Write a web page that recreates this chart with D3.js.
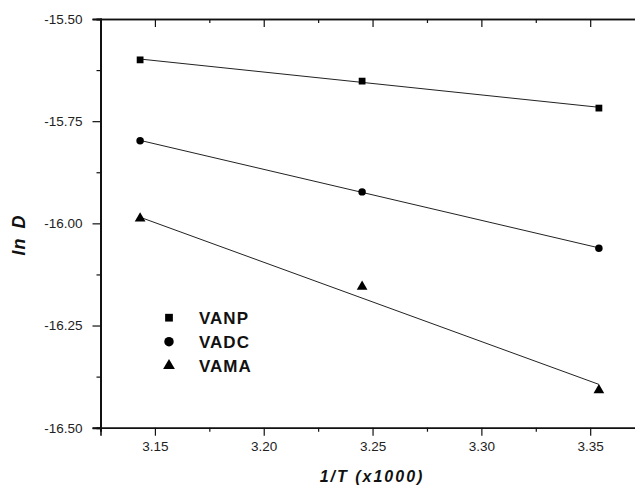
<!DOCTYPE html>
<html>
<head>
<meta charset="utf-8">
<script src="https://cdn.jsdelivr.net/npm/d3@7"></script>
<style>
  body { margin: 0; background: #fff; }
  svg { display: block; font-family: "Liberation Sans", Arial, sans-serif; }
</style>
</head>
<body>
<script>
// 1/T for 45, 35, 25 C
const invT = [3.1432, 3.2452, 3.3540]
const seriesNames = ["VANP", "VADC", "VAMA"]
const VANP = [-15.600, -15.652, -15.718]
const VADC = [-15.798, -15.923, -16.061]
const VAMA = [-15.988, -16.155, -16.408]
// linear fit, value at first and last 1/T
const fitStart = [-15.598, -15.797, -15.985]
const fitEnd = [-15.716, -16.060, -16.394]
const xMajor = [3.15, 3.20, 3.25, 3.30, 3.35]
const yMajor = [-16.50, -16.25, -16.00, -15.75, -15.50]

const width = 635, height = 489
const seriesVals = [VANP, VADC, VAMA]
const symbols = [d3.symbolSquare, d3.symbolCircle, d3.symbolTriangle]
const markSize = [46, 44, 50]

const x = d3.scaleLinear().domain([3.125, 3.375]).range([100.5, 644.6])
const y = d3.scaleLinear().domain([-16.5, -15.5]).range([427.7, 19])

const svg = d3.select("body").append("svg")
  .attr("width", width).attr("height", height)

const xMinor = d3.range(3.125, 3.376, 0.025).map(v => +v.toFixed(3)).filter(v => !xMajor.some(m => Math.abs(m - v) < 1e-6))
const yMinor = [-16.375, -16.125, -15.875, -15.625]

const styleAxis = g => {
  g.selectAll(".domain").attr("stroke", "#111").attr("stroke-width", 1.6)
  g.selectAll(".tick line").attr("stroke", "#111").attr("stroke-width", 1.2)
  g.selectAll(".tick text").attr("fill", "#222").style("font-size", "13.5px")
}

// bottom
svg.append("g").attr("transform", `translate(0,${y(-16.5)})`)
  .call(d3.axisBottom(x).tickValues(xMajor).tickSize(8).tickPadding(6).tickFormat(d => d.toFixed(2)))
  .call(styleAxis)
svg.append("g").attr("transform", `translate(0,${y(-16.5)})`)
  .call(d3.axisBottom(x).tickValues(xMinor).tickSize(4).tickFormat(""))
  .call(styleAxis)
// top (inward ticks)
svg.append("g").attr("transform", `translate(0,${y(-15.5)})`)
  .call(d3.axisTop(x).tickValues(xMajor).tickSize(-8).tickFormat(""))
  .call(styleAxis)
svg.append("g").attr("transform", `translate(0,${y(-15.5)})`)
  .call(d3.axisTop(x).tickValues(xMinor).tickSize(-4).tickFormat(""))
  .call(styleAxis)
// left
svg.append("g").attr("transform", `translate(${x(3.125)},0)`)
  .call(d3.axisLeft(y).tickValues(yMajor).tickSize(8).tickPadding(10).tickFormat(d => d.toFixed(2)))
  .call(styleAxis)
  .call(g => g.select(".domain").attr("stroke-width", 2))
svg.append("g").attr("transform", `translate(${x(3.125)},0)`)
  .call(d3.axisLeft(y).tickValues(yMinor).tickSize(4).tickFormat(""))
  .call(styleAxis)
  .call(g => g.select(".domain").attr("stroke-width", 2))

// fit lines
seriesNames.forEach((name, i) => {
  svg.append("line")
    .attr("x1", x(invT[0])).attr("y1", y(fitStart[i]))
    .attr("x2", x(invT[invT.length - 1])).attr("y2", y(fitEnd[i]))
    .attr("stroke", "#222").attr("stroke-width", 1)
})

// markers
seriesNames.forEach((name, i) => {
  svg.append("g").selectAll("path")
    .data(seriesVals[i].map((v, j) => [invT[j], v]))
    .join("path")
    .attr("transform", d => `translate(${x(d[0])},${y(d[1])})`)
    .attr("d", d3.symbol(symbols[i], markSize[i]))
    .attr("fill", "#000")
})

// legend
const legend = svg.append("g")
seriesNames.forEach((name, i) => {
  const ly = 317.7 + i * 24
  legend.append("path")
    .attr("transform", `translate(169,${ly})`)
    .attr("d", d3.symbol(symbols[i], i == 1 ? 70 : 60))
    .attr("fill", "#000")
  legend.append("text")
    .attr("x", 199).attr("y", ly + 6.5)
    .attr("fill", "#111")
    .style("font-size", "17px").style("font-weight", "bold").style("letter-spacing", "1px")
    .text(name)
})

// axis titles
svg.append("text")
  .attr("x", 372).attr("y", 482)
  .attr("text-anchor", "middle")
  .attr("fill", "#111")
  .style("font-size", "16px").style("font-weight", "bold").style("font-style", "italic")
  .style("letter-spacing", "2px")
  .text("1/T (x1000)")

svg.append("text")
  .attr("transform", "translate(25,235) rotate(-90)")
  .attr("text-anchor", "middle")
  .attr("fill", "#111")
  .style("font-size", "18px").style("font-weight", "bold").style("font-style", "italic")
  .style("letter-spacing", "1px").style("word-spacing", "3px")
  .text("ln D")
</script>
</body>
</html>
